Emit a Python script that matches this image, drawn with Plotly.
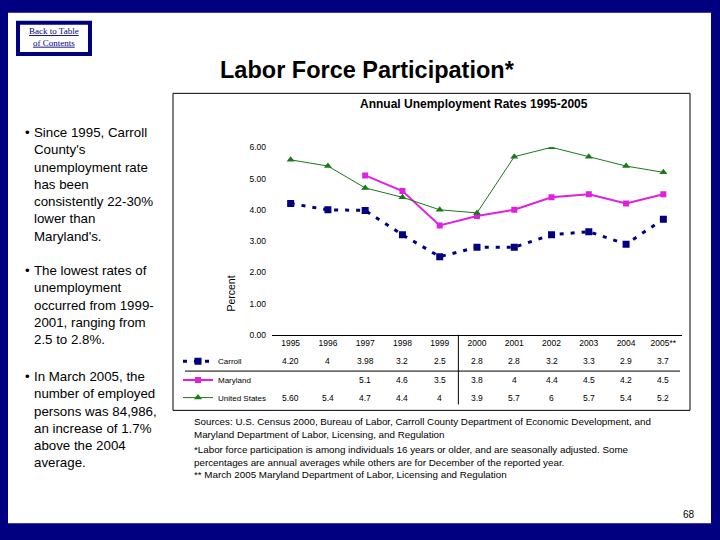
import plotly.graph_objects as go

years = ["1995", "1996", "1997", "1998", "1999", "2000", "2001", "2002", "2003", "2004", "2005**"]
carroll = [4.20, 4.0, 3.98, 3.2, 2.5, 2.8, 2.8, 3.2, 3.3, 2.9, 3.7]
maryland = [None, None, 5.1, 4.6, 3.5, 3.8, 4.0, 4.4, 4.5, 4.2, 4.5]
united_states = [5.60, 5.4, 4.7, 4.4, 4.0, 3.9, 5.7, 6.0, 5.7, 5.4, 5.2]
carroll_text = ["4.20", "4", "3.98", "3.2", "2.5", "2.8", "2.8", "3.2", "3.3", "2.9", "3.7"]
maryland_text = ["", "", "5.1", "4.6", "3.5", "3.8", "4", "4.4", "4.5", "4.2", "4.5"]
us_text = ["5.60", "5.4", "4.7", "4.4", "4", "3.9", "5.7", "6", "5.7", "5.4", "5.2"]
y_ticks = [0, 1, 2, 3, 4, 5, 6]

W, H = 720, 540
def px(x):
    return x / W
def py(y):
    return 1 - y / H

NAVY = "#000080"
FONT = "Liberation Sans, Arial, sans-serif"
xs = list(range(len(years)))

fig = go.Figure()
fig.add_trace(go.Scatter(
    x=xs, y=carroll, name="Carroll", mode="lines+markers",
    line=dict(color=NAVY, width=3, dash="4px,7px"),
    marker=dict(symbol="square", size=7, color=NAVY),
    legend="legend"))
fig.add_trace(go.Scatter(
    x=xs, y=maryland, name="Maryland", mode="lines+markers",
    line=dict(color="#E020E0", width=2),
    marker=dict(symbol="square", size=6, color="#E020E0"),
    legend="legend2"))
fig.add_trace(go.Scatter(
    x=xs, y=united_states, name="United States", mode="lines+markers",
    line=dict(color="#1A7A1A", width=1),
    marker=dict(symbol="triangle-up", size=7, color="#1A7A1A"),
    legend="legend3"))

def leg(y):
    return dict(x=px(178), y=py(y), xanchor="left", yanchor="middle",
                bgcolor="rgba(0,0,0,0)", borderwidth=0,
                font=dict(family=FONT, size=8, color="black"),
                itemwidth=30, tracegroupgap=0)

shapes = [
    dict(type="rect", xref="paper", yref="paper", x0=px(8), x1=px(711), y0=py(528), y1=py(8),
         fillcolor="white", line=dict(width=0), layer="below"),
    dict(type="rect", xref="paper", yref="paper", x0=px(16), x1=px(92), y0=py(52), y1=py(16),
         fillcolor=NAVY, line=dict(width=0), layer="below"),
    dict(type="rect", xref="paper", yref="paper", x0=px(20), x1=px(88), y0=py(48), y1=py(20),
         fillcolor="white", line=dict(width=0), layer="below"),
    dict(type="rect", xref="paper", yref="paper", x0=px(173), x1=px(690), y0=py(413), y1=py(90),
         line=dict(color="black", width=1), fillcolor="rgba(0,0,0,0)"),
    dict(type="line", xref="paper", yref="paper", x0=px(185), x1=px(680), y0=py(373), y1=py(373),
         line=dict(color="black", width=1)),
    dict(type="line", xref="x", yref="paper", x0=4.5, x1=4.5, y0=py(336), y1=py(407),
         line=dict(color="black", width=1)),
]

annotations = [
    dict(text="<u>Back to Table</u><br><u>of Contents</u>", x=px(54), y=py(33), xref="paper", yref="paper",
         showarrow=False, font=dict(family="Liberation Serif, Times New Roman, serif", size=9, color=NAVY),
         align="center", xanchor="center", yanchor="middle"),
    dict(text="<b>Labor Force Participation*</b>", x=px(367), y=py(66), xref="paper", yref="paper",
         showarrow=False, font=dict(family=FONT, size=23.5, color="black"), xanchor="center", yanchor="middle"),
    dict(text="<b>Annual Unemployment Rates 1995-2005</b>", x=px(474), y=py(101), xref="paper", yref="paper",
         showarrow=False, font=dict(family=FONT, size=12, color="black"), xanchor="center", yanchor="middle"),
    dict(text="Percent", x=px(231), y=py(294), xref="paper", yref="paper", textangle=-90,
         showarrow=False, font=dict(family=FONT, size=10.5, color="black"), xanchor="center", yanchor="middle"),
    dict(text="68", x=px(697), y=py(519), xref="paper", yref="paper",
         showarrow=False, font=dict(family=FONT, size=10, color="black"), xanchor="right", yanchor="middle"),
    dict(text=("Sources: U.S. Census 2000, Bureau of Labor, Carroll County Department of Economic Development, and<br>"
               "Maryland Department of Labor, Licensing, and Regulation"),
         x=px(192), y=py(417), xref="paper", yref="paper", showarrow=False, align="left",
         font=dict(family=FONT, size=9.8, color="black"), xanchor="left", yanchor="top"),
    dict(text=("*Labor force participation is among individuals 16 years or older, and are seasonally adjusted. Some<br>"
               "percentages are annual averages while others are for December of the reported year.<br>"
               "** March 2005 Maryland Department of Labor, Licensing and Regulation"),
         x=px(192), y=py(445), xref="paper", yref="paper", showarrow=False, align="left",
         font=dict(family=FONT, size=9.8, color="black"), xanchor="left", yanchor="top"),
]

bullets = [
    (120, "Since 1995, Carroll<br>County's<br>unemployment rate<br>has been<br>consistently 22-30%<br>lower than<br>Maryland's."),
    (261, "The lowest rates of<br>unemployment<br>occurred from 1999-<br>2001, ranging from<br>2.5 to 2.8%."),
    (369, "In March 2005, the<br>number of employed<br>persons was 84,986,<br>an increase of 1.7%<br>above the 2004<br>average."),
]
for ytop, txt in bullets:
    annotations.append(dict(text="•", x=px(23), y=py(ytop), xref="paper", yref="paper", showarrow=False,
                            font=dict(family=FONT, size=13.3, color="black"), xanchor="left", yanchor="top"))
    annotations.append(dict(text=txt, x=px(32), y=py(ytop), xref="paper", yref="paper", showarrow=False,
                            align="left", font=dict(family=FONT, size=13.3, color="black"),
                            xanchor="left", yanchor="top"))

for row_y, texts in [(363, carroll_text), (382, maryland_text), (400, us_text)]:
    for i, t in enumerate(texts):
        if t:
            annotations.append(dict(text=t, x=i, y=py(row_y), xref="x", yref="paper", showarrow=False,
                                    font=dict(family=FONT, size=8.5, color="black"),
                                    xanchor="center", yanchor="middle"))

fig.update_layout(
    width=W, height=H, autosize=False,
    margin=dict(l=0, r=0, t=0, b=0),
    paper_bgcolor=NAVY, plot_bgcolor="rgba(0,0,0,0)",
    showlegend=True,
    legend=leg(363), legend2=leg(382), legend3=leg(400),
    xaxis=dict(domain=[px(272), px(682)], range=[-0.5, len(years) - 0.5],
               tickvals=xs, ticktext=years, ticks="", showgrid=False, zeroline=False,
               showline=True, linecolor="black", linewidth=1,
               tickfont=dict(family=FONT, size=8.5, color="black"), fixedrange=True),
    yaxis=dict(domain=[py(336), py(145)], range=[0, 6], tickvals=y_ticks, tickformat=".2f",
               ticks="", showgrid=False, zeroline=False, showline=False,
               ticklabelstandoff=5,
               tickfont=dict(family=FONT, size=8.5, color="black"), fixedrange=True),
    shapes=shapes, annotations=annotations,
)

fig.write_html("out.html", config={"displayModeBar": False},
               post_script="document.body.style.margin='0';document.body.style.overflow='hidden';")
